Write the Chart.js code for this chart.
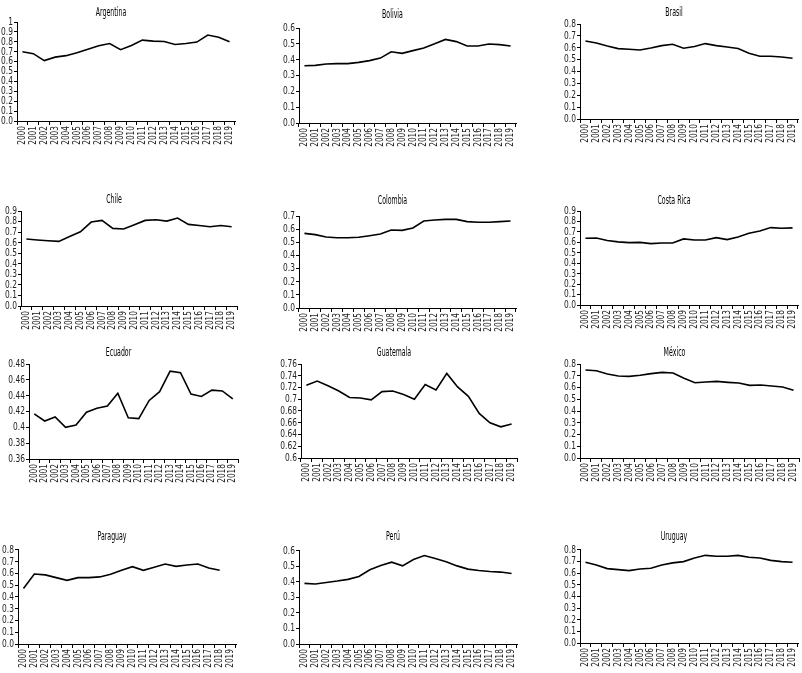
<!DOCTYPE html>
<html>
<head>
<meta charset="utf-8">
<script src="https://cdn.jsdelivr.net/npm/chart.js@4.4.1/dist/chart.umd.min.js"></script>
<style>
  html,body{margin:0;padding:0;background:#fff;overflow:hidden;}
  body{width:802px;height:673px;position:relative;}
  canvas{position:absolute;}
</style>
</head>
<body>
<script>
// años
const years = ['2000','2001','2002','2003','2004','2005','2006','2007','2008','2009',
               '2010','2011','2012','2013','2014','2015','2016','2017','2018','2019'];

// valores por país
const argentina = [0.70,0.68,0.61,0.645,0.66,0.69,0.725,0.76,0.783,0.72,0.763,0.817,0.807,0.803,0.773,0.783,0.797,0.868,0.847,0.80];
const bolivia   = [0.362,0.364,0.373,0.375,0.375,0.383,0.394,0.41,0.45,0.44,0.457,0.474,0.50,0.528,0.514,0.486,0.486,0.499,0.495,0.486];
const brasil    = [0.657,0.64,0.615,0.593,0.587,0.581,0.598,0.618,0.629,0.596,0.61,0.635,0.618,0.607,0.593,0.553,0.528,0.528,0.522,0.511];
const chile     = [0.634,0.625,0.618,0.612,0.659,0.703,0.795,0.811,0.735,0.729,0.77,0.811,0.817,0.804,0.833,0.773,0.763,0.751,0.763,0.751];
const colombia  = [0.568,0.558,0.54,0.535,0.535,0.538,0.55,0.563,0.593,0.591,0.609,0.662,0.669,0.674,0.674,0.657,0.652,0.652,0.657,0.662];
const costaRica = [0.639,0.642,0.617,0.604,0.597,0.60,0.588,0.594,0.594,0.633,0.623,0.623,0.645,0.626,0.652,0.687,0.709,0.741,0.735,0.738];
const ecuador   = [0.417,0.408,0.413,0.40,0.403,0.419,0.424,0.427,0.443,0.412,0.411,0.434,0.445,0.471,0.469,0.442,0.439,0.447,0.446,0.436];
const guatemala = [0.724,0.731,0.723,0.714,0.703,0.702,0.699,0.713,0.714,0.708,0.70,0.725,0.716,0.744,0.721,0.705,0.676,0.66,0.653,0.658];
const mexico    = [0.749,0.743,0.715,0.698,0.695,0.704,0.718,0.729,0.723,0.678,0.641,0.647,0.652,0.644,0.638,0.618,0.621,0.613,0.604,0.576];
const paraguay  = [0.472,0.596,0.588,0.565,0.542,0.565,0.565,0.571,0.593,0.627,0.658,0.627,0.653,0.681,0.661,0.672,0.681,0.647,0.627,null];
const peru      = [0.391,0.387,0.397,0.406,0.417,0.436,0.479,0.506,0.528,0.504,0.545,0.571,0.551,0.53,0.504,0.483,0.474,0.468,0.464,0.455];
const uruguay   = [0.694,0.671,0.64,0.631,0.623,0.637,0.643,0.671,0.689,0.70,0.731,0.754,0.746,0.746,0.754,0.737,0.731,0.711,0.70,0.694];

// escalas (min, max, paso) por país
const scaleArgentina = [0, 1, 0.1];
const scaleBolivia   = [0, 0.6, 0.1];
const scaleBrasil    = [0, 0.8, 0.1];
const scaleChile     = [0, 0.9, 0.1];
const scaleColombia  = [0, 0.7, 0.1];
const scaleCostaRica = [0, 0.9, 0.1];
const scaleEcuador   = [0.36, 0.48, 0.02];
const scaleGuatemala = [0.6, 0.76, 0.02];
const scaleMexico    = [0, 0.8, 0.1];
const scaleParaguay  = [0, 0.8, 0.1];
const scalePeru      = [0, 0.6, 0.1];
const scaleUruguay   = [0, 0.8, 0.1];

// paneles: área del gráfico (izq, arriba, der, abajo) y centro del título
const panels = [
  {title:'Argentina',  values:argentina, sc:scaleArgentina, area:[17,22,235,121],  tx:122, ty:13},
  {title:'Bolivia',    values:bolivia,   sc:scaleBolivia,   area:[299,28,516,123], tx:403, ty:15},
  {title:'Brasil',     values:brasil,    sc:scaleBrasil,    area:[580,24,798,119], tx:683, ty:13},
  {title:'Chile',      values:chile,     sc:scaleChile,     area:[21,211,237,306], tx:125, ty:200},
  {title:'Colombia',   values:colombia,  sc:scaleColombia,  area:[299,216,516,308],tx:405, ty:201},
  {title:'Costa Rica', values:costaRica, sc:scaleCostaRica, area:[580,211,798,305],tx:686, ty:201},
  {title:'Ecuador',    values:ecuador,   sc:scaleEcuador,   area:[29,364,238,459], tx:123, ty:353},
  {title:'Guatemala',  values:guatemala, sc:scaleGuatemala, area:[301,364,517,458],tx:405, ty:353},
  {title:'México',     values:mexico,    sc:scaleMexico,    area:[580,364,799,458],tx:686, ty:353},
  {title:'Paraguay',   values:paraguay,  sc:scaleParaguay,  area:[18,550,236,644], tx:124, ty:537},
  {title:'Perú',       values:peru,      sc:scalePeru,      area:[299,551,517,644],tx:406, ty:537},
  {title:'Uruguay',    values:uruguay,   sc:scaleUruguay,   area:[580,550,798,643],tx:685, ty:537}
];

const FONT = "'DejaVu Sans',sans-serif";
// el original usa una letra muy condensada: factor horizontal según tamaño
const NARROW = {12:0.52, 11:0.68, 10:0.74};
const YW = 30;        // ancho eje y
const XH = 28;        // alto eje x
const TFS = 12;       // tamaño título
const TLH = TFS*1.2;

// texto condensado: se escala en horizontal alrededor del punto de anclaje
function condense(ctx){
  const orig = ctx.fillText.bind(ctx);
  ctx.fillText = function(txt, x, y){
    const m = /(\d+(?:\.\d+)?)px/.exec(this.font);
    const k = (m && NARROW[Math.round(+m[1])]) || 0.72;
    this.save();
    this.translate(x, y);
    this.scale(k, 1);
    orig(txt, 0, 0);
    this.restore();
  };
}

panels.forEach(p=>{
  const [l,t,r,b] = p.area;
  const cLeft = l - YW;
  const cTop  = Math.round(p.ty - TLH/2 - 1);
  const cW    = Math.round(2*(p.tx - cLeft));
  const cH    = b + XH - cTop;
  const padR  = cLeft + cW - r;

  const cv = document.createElement('canvas');
  cv.width = cW; cv.height = cH;
  cv.style.left = cLeft+'px'; cv.style.top = cTop+'px';
  cv.style.width = cW+'px'; cv.style.height = cH+'px';
  document.body.appendChild(cv);
  const ctx = cv.getContext('2d');
  condense(ctx);

  new Chart(ctx, {
    type:'line',
    data:{
      labels: years,
      datasets:[{
        data: p.values,
        borderColor:'#000',
        borderWidth:1.6,
        pointRadius:0,
        fill:false,
        tension:0
      }]
    },
    options:{
      responsive:false,
      animation:false,
      devicePixelRatio:1,
      layout:{ padding:{left:0, top:0, right:padR, bottom:0} },
      plugins:{
        legend:{ display:false },
        tooltip:{ enabled:false },
        title:{
          display:true,
          text:p.title,
          color:'#000',
          font:{ family:FONT, size:TFS, weight:'normal' },
          padding:{ top:p.ty - TLH/2 - cTop, bottom: Math.max(0, t - p.ty - TLH/2) }
        }
      },
      scales:{
        x:{
          type:'category',
          offset:true,
          grid:{ offset:true, drawOnChartArea:false, color:'#000', tickLength:4 },
          border:{ color:'#000', width:1 },
          ticks:{ autoSkip:false, maxRotation:90, minRotation:90, padding:1, color:'#222',
                  font:{ family:FONT, size:10 } },
          afterFit:s=>{ s.height = XH; s.paddingLeft = 0; s.paddingRight = 0; }
        },
        y:{
          min:p.sc[0], max:p.sc[1],
          grid:{ drawOnChartArea:false, color:'#000', tickLength:3 },
          border:{ color:'#000', width:1 },
          ticks:{ stepSize:p.sc[2], autoSkip:false, padding:1, color:'#222',
                  font:{ family:FONT, size:11 },
                  callback:v=> v===0 ? '0.0' : String(Math.round(v*100)/100) },
          afterFit:s=>{ s.width = YW; s.paddingTop = 0; s.paddingBottom = 0; }
        }
      }
    }
  });
});
</script>
</body>
</html>
